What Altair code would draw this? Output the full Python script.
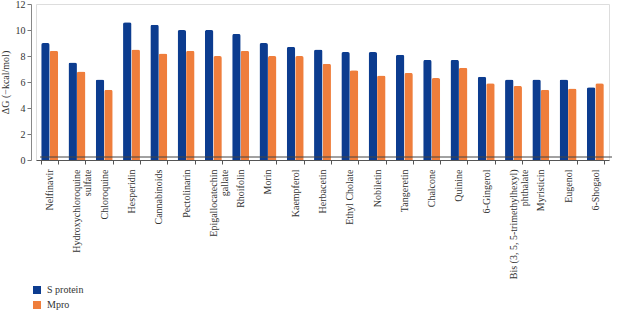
import altair as alt
import pandas as pd

compounds = [
    "Nelfinavir", "Hydroxychloroquine|sulfate", "Chloroquine", "Hesperidin",
    "Cannabinoids", "Pectolinarin", "Epigallocatechin|gallate", "Rhoifolin",
    "Morin", "Kaempferol", "Herbacetin", "Ethyl Cholate", "Nobiletin",
    "Tangeretin", "Chalcone", "Quinine", "6-Gingerol",
    "Bis (3, 5, 5-trimethylhexyl)|phthalate", "Myristicin", "Eugenol", "6-Shogaol",
]
s_protein = [9.0, 7.5, 6.2, 10.6, 10.4, 10.0, 10.0, 9.7, 9.0, 8.7, 8.5,
             8.3, 8.3, 8.1, 7.7, 7.7, 6.4, 6.2, 6.2, 6.2, 5.6]
mpro = [8.4, 6.8, 5.4, 8.5, 8.2, 8.4, 8.0, 8.4, 8.0, 8.0, 7.4,
        6.9, 6.5, 6.7, 6.3, 7.1, 5.9, 5.7, 5.4, 5.5, 5.9]
series = ["S protein", "Mpro"]
colors = ["#0c3c8f", "#ef7e3c"]
y_ticks = [0, 2, 4, 6, 8, 10, 12]

rows = []
for c, s, m in zip(compounds, s_protein, mpro):
    rows.append({"compound": c, "series": series[0], "value": s})
    rows.append({"compound": c, "series": series[1], "value": m})
df = pd.DataFrame(rows)

W, H = 573, 156
FONT = "Liberation Serif"

bars = alt.Chart(df).mark_bar(cornerRadiusTopLeft=2, cornerRadiusTopRight=2).encode(
    x=alt.X("compound:N", sort=compounds,
            scale=alt.Scale(paddingInner=0.38, paddingOuter=0.19),
            axis=alt.Axis(title=None, labelAngle=-90, labelAlign="right",
                          labelBaseline="middle", labelExpr="split(datum.label, '|')",
                          labelFont=FONT, labelFontSize=10, labelColor="#333333",
                          labelLimit=0, labelLineHeight=11, labelPadding=5,
                          labelOverlap=False,
                          tickBand="extent", tickSize=4, tickColor="#555555",
                          domainColor="#555555")),
    xOffset=alt.XOffset("series:N", sort=series, scale=alt.Scale(paddingInner=0, paddingOuter=0)),
    y=alt.Y("value:Q", scale=alt.Scale(domain=[0, 12], nice=False),
            axis=alt.Axis(title="ΔG (−kcal/mol)", values=y_ticks, tickCount=7,
                          labelOverlap=False,
                          grid=False, offset=5, tickSize=4, tickColor="#777777",
                          domainColor="#888888", labelFont=FONT, labelFontSize=10,
                          labelColor="#333333", labelPadding=2, titleFont=FONT,
                          titleFontSize=10, titleFontWeight="normal",
                          titleColor="#333333", titlePadding=5)),
    color=alt.Color("series:N", sort=series,
                    scale=alt.Scale(domain=series, range=colors),
                    legend=alt.Legend(title=None, orient="none", legendX=-4, legendY=281,
                                      symbolType="square", symbolSize=64,
                                      symbolStrokeWidth=0, labelFont=FONT,
                                      labelFontSize=10, labelColor="#333333",
                                      labelOffset=5, rowPadding=5, padding=0)),
)

floor = alt.Chart(pd.DataFrame({"v": [0]})).mark_rule(
    color="#444444", strokeWidth=1, yOffset=-3
).encode(y=alt.datum(0), x=alt.value(4), x2=alt.value(W + 3))

chart = alt.layer(bars, floor).properties(
    width=W, height=H,
    autosize=alt.AutoSizeParams(type="none"),
    padding={"left": 36, "top": 4, "right": 10, "bottom": 150},
).configure_view(stroke=None).configure(background="white")

chart.save("out.html", embed_options={"renderer": "svg", "actions": False})
